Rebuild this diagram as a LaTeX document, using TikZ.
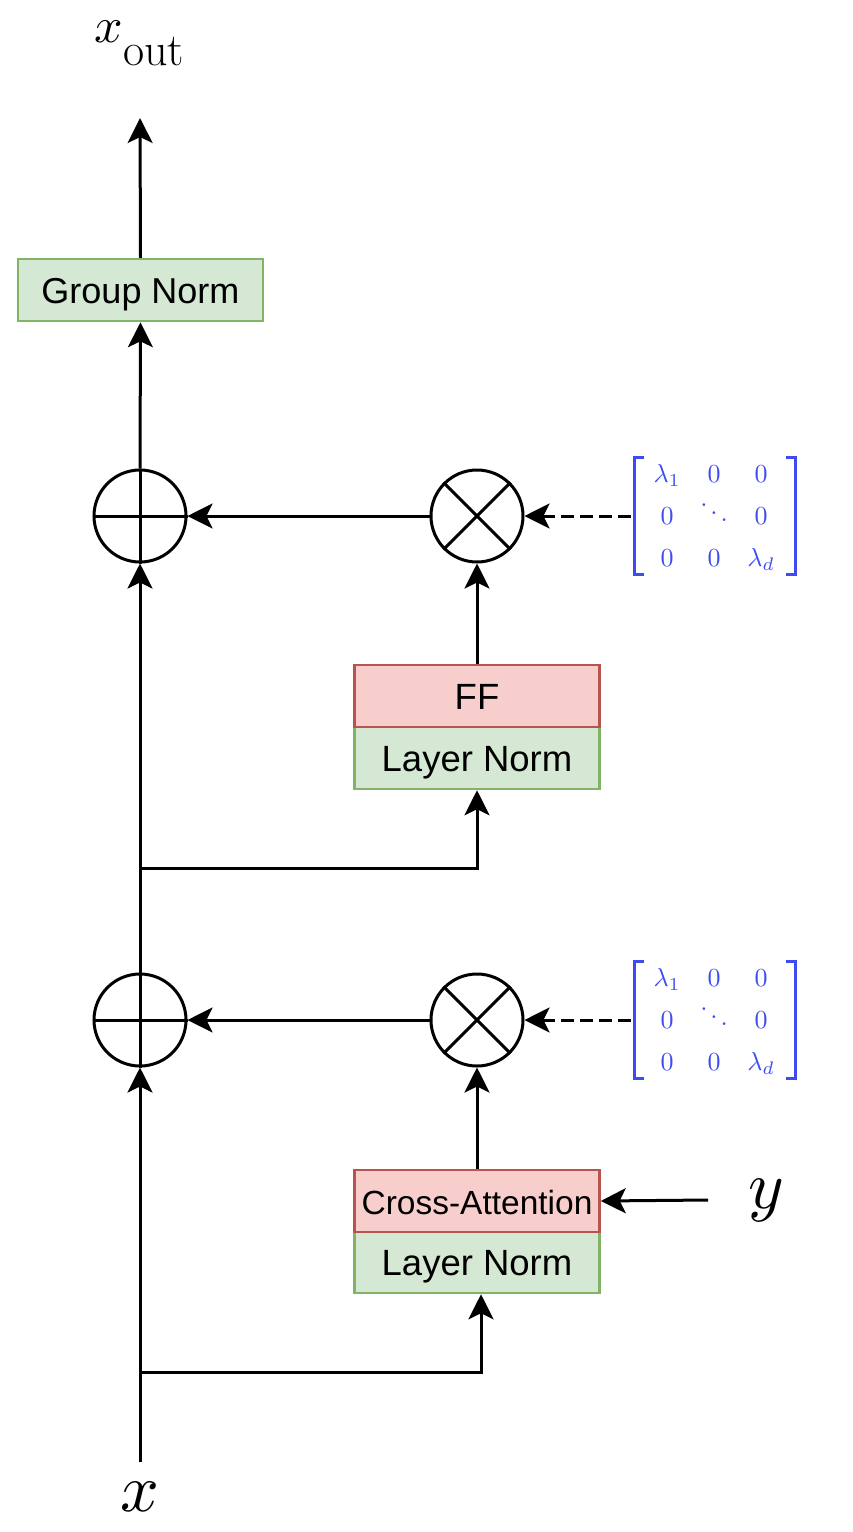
\documentclass[tikz,border=0pt]{standalone}
\usepackage{graphicx}
\usepackage{fontspec}
\setsansfont{Liberation Sans}
\usetikzlibrary{arrows.meta,calc,matrix}
\definecolor{gfill}{HTML}{D5E8D4}
\definecolor{gdraw}{HTML}{82B366}
\definecolor{rfill}{HTML}{F8CECC}
\definecolor{rdraw}{HTML}{B85450}
\definecolor{mblue}{HTML}{3D4BF0}
\newcommand\matent[1]{\scalebox{2.6}{$#1$}}
\begin{document}
\begin{tikzpicture}[x=1pt,y=-1pt,line width=3pt,
  >={Stealth[length=25pt,width=25pt,inset=6pt]},
  gbox/.style={draw=gdraw,fill=gfill,line width=2.5pt,minimum width=245pt,minimum height=62pt,inner sep=0pt,text height=26pt,text depth=0pt,font=\sffamily\fontsize{36.5}{40}\selectfont},
  rbox/.style={gbox,draw=rdraw,fill=rfill},
  opcirc/.style={circle,draw,minimum size=92pt,inner sep=0pt,line width=3pt},
  lammat/.style={matrix of nodes,inner xsep=15pt,inner ysep=0pt,
     column sep=6pt,row sep=0pt,
     nodes={minimum width=41pt,minimum height=42pt,inner sep=0pt,text height=17pt,text depth=0pt,text=mblue}},
  bracket/.style={draw=mblue,line width=3pt},
  dashedarrow/.style={->,dash pattern=on 13pt off 6pt}
]
\useasboundingbox (0,0) rectangle (852,1532);

% labels
\node (xout) at (139.5,43) {\scalebox{5}{$x$}\raisebox{-23pt}{\fontsize{46}{50}\selectfont out}};
\coordinate (top) at (140,118);
\node (xin) at (140,1497) {\scalebox{6.8}{$x$}};
\coordinate (bot) at (140,1462);
\node (yin) at (766,1200) {\scalebox{6.8}{$y$}};
\coordinate (yend) at (708,1200);

% boxes
\node[gbox,font=\sffamily\fontsize{36}{40}\selectfont] (gn) at (140.5,290) {Group Norm};
\node[gbox] (ln1) at (477,758) {Layer Norm};
\node[rbox] (ff) at (477,696) {FF};
\node[gbox] (ln2) at (477,1262) {Layer Norm};
\node[rbox,font=\sffamily\fontsize{33.5}{40}\selectfont] (ca) at (477,1201) {Cross-Attention};

% operators
\node[opcirc] (p1) at (140,516) {};
\node[opcirc] (t1) at (477,516) {};
\node[opcirc] (p2) at (140,1020) {};
\node[opcirc] (t2) at (477,1020) {};
\draw (p1.west) -- (p1.east) (p1.north) -- (p1.south);
\draw (p2.west) -- (p2.east) (p2.north) -- (p2.south);
\draw (t1.north west) -- (t1.south east) (t1.north east) -- (t1.south west);
\draw (t2.north west) -- (t2.south east) (t2.north east) -- (t2.south west);

% matrices
\matrix (m1) [lammat] at (714,516) {
  \matent{\lambda_1} & \matent{0} & \matent{0}\\
  \matent{0} & \matent{\ddots} & \matent{0}\\
  \matent{0} & \matent{0} & \matent{\lambda_d}\\
};
\matrix (m2) [lammat] at (714,1020) {
  \matent{\lambda_1} & \matent{0} & \matent{0}\\
  \matent{0} & \matent{\ddots} & \matent{0}\\
  \matent{0} & \matent{0} & \matent{\lambda_d}\\
};
\foreach \m in {m1,m2}{
  \draw[bracket] ($(\m.center)+(-70,-59)$) -- ($(\m.center)+(-80,-59)$) -- ($(\m.center)+(-80,58)$) -- ($(\m.center)+(-70,58)$);
  \draw[bracket] ($(\m.center)+(72,-59)$) -- ($(\m.center)+(81,-59)$) -- ($(\m.center)+(81,58)$) -- ($(\m.center)+(72,58)$);
}

% connectors
\coordinate (br1) at (140,868);
\coordinate (br2) at (140,1372);
\draw[->] (bot) -- (p2.south);
\draw[->] (p2.north) -- (p1.south);
\draw[->] (p1.north) -- (gn.south);
\draw[->] (gn.north) -- (top);
\draw[->] (br1) -| (ln1.south);
\draw[->] (br2) -| ([xshift=4pt]ln2.south);
\draw[->] (ff.north) -- (t1.south);
\draw[->] (ca.north) -- (t2.south);
\draw[->] (t1.west) -- (p1.east);
\draw[->] (t2.west) -- (p2.east);
\draw[dashedarrow] ([xshift=1pt]m1.west) -- (t1.east);
\draw[dashedarrow] ([xshift=1pt]m2.west) -- (t2.east);
\draw[->] (yend) -- (ca.east);
\end{tikzpicture}
\end{document}
